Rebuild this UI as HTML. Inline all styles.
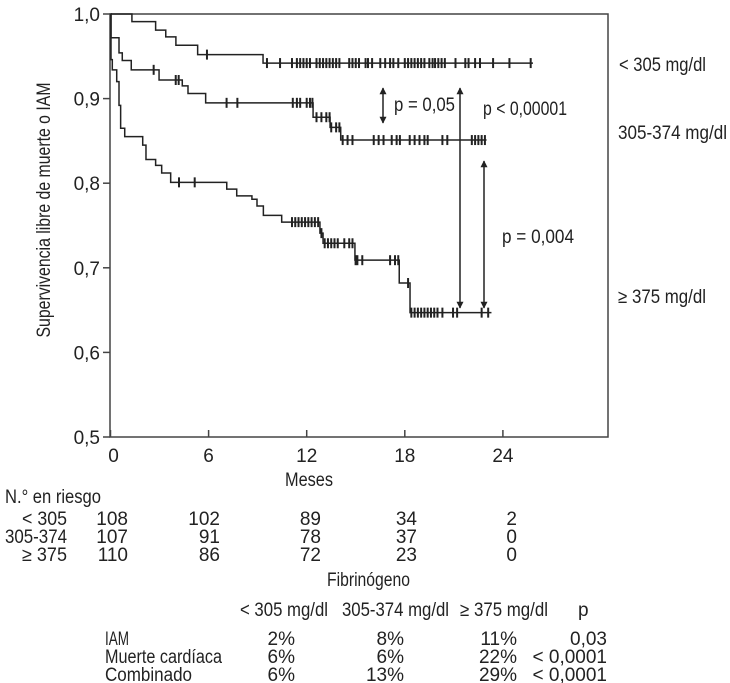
<!DOCTYPE html>
<html><head><meta charset="utf-8"><style>
html,body{margin:0;padding:0;background:#fff}
svg{display:block}
text{font-family:"Liberation Sans Narrow","Liberation Sans",sans-serif;font-size:19px;fill:#222}
</style></head><body>
<svg id="chart" width="730" height="683" viewBox="0 0 730 683" xmlns="http://www.w3.org/2000/svg">
<defs>
<marker id="ah" viewBox="0 0 10 10" refX="9" refY="5" markerWidth="7" markerHeight="10" orient="auto-start-reverse" markerUnits="userSpaceOnUse"><path d="M0,0 L10,5 L0,10 z" fill="#222"/></marker>
</defs>
<rect x="110" y="14" width="498" height="423" fill="none" stroke="#444" stroke-width="1.5"/>
<g id="axes"></g>
<g id="curves"></g>
<text transform="translate(50,210) rotate(-90)" text-anchor="middle" textLength="255" lengthAdjust="spacingAndGlyphs">Supervivencia libre de muerte  o IAM</text>
<text x="285" y="486" textLength="48" lengthAdjust="spacingAndGlyphs">Meses</text>
<text x="619" y="71" textLength="87" lengthAdjust="spacingAndGlyphs">&lt; 305 mg/dl</text>
<text x="618" y="139" textLength="109" lengthAdjust="spacingAndGlyphs">305-374 mg/dl</text>
<text x="618" y="303" textLength="88" lengthAdjust="spacingAndGlyphs">≥ 375 mg/dl</text>
<line x1="383" y1="88" x2="383" y2="123" stroke="#222" stroke-width="1.5" marker-start="url(#ah)" marker-end="url(#ah)"/>
<line x1="460" y1="88" x2="460" y2="308" stroke="#222" stroke-width="1.5" marker-start="url(#ah)" marker-end="url(#ah)"/>
<line x1="484" y1="161" x2="484" y2="308" stroke="#222" stroke-width="1.5" marker-start="url(#ah)" marker-end="url(#ah)"/>
<text x="394" y="111" textLength="61" lengthAdjust="spacingAndGlyphs">p = 0,05</text>
<text x="483" y="115" textLength="84" lengthAdjust="spacingAndGlyphs">p &lt; 0,00001</text>
<text x="502" y="243" textLength="72" lengthAdjust="spacingAndGlyphs">p = 0,004</text>

<text x="5" y="503" textLength="96" lengthAdjust="spacingAndGlyphs">N.° en riesgo</text>
<g id="risk"></g>
<text x="327" y="586" textLength="83" lengthAdjust="spacingAndGlyphs">Fibrinógeno</text>
<g>
<text x="240" y="616" textLength="88" lengthAdjust="spacingAndGlyphs">&lt; 305 mg/dl</text>
<text x="342" y="616" textLength="107" lengthAdjust="spacingAndGlyphs">305-374 mg/dl</text>
<text x="460" y="616" textLength="88" lengthAdjust="spacingAndGlyphs">≥ 375 mg/dl</text>
<text x="578" y="616">p</text>
<text x="105" y="645" textLength="24" lengthAdjust="spacingAndGlyphs">IAM</text>
<text x="105" y="663" textLength="117" lengthAdjust="spacingAndGlyphs">Muerte cardíaca</text>
<text x="105" y="681" textLength="87" lengthAdjust="spacingAndGlyphs">Combinado</text>
<g id="otab"></g>
</g>
</svg>
<script>
const months=[0,6,12,18,24];
const yTicks=[0.5,0.6,0.7,0.8,0.9,1.0];
const lowSteps=[[0,1],[1.31,0.991],[2.76,0.981],[3.38,0.973],[4.0,0.963],[5.33,0.952],[9.33,0.942]];
const lowEnd=25.84;
const lowCens=[5.9,9.57,10.37,11.1,11.4,11.6,11.8,12.0,12.2,12.6,12.8,13.0,13.2,13.4,13.6,13.8,14.0,14.6,14.8,15.0,15.2,15.6,15.75,16.0,16.5,16.8,17.1,17.3,17.6,18.0,18.2,18.4,18.6,18.8,19.0,19.2,19.5,19.7,19.85,20.05,20.25,20.45,21.1,21.7,21.9,22.3,22.6,23.4,24.4,25.7];
const midSteps=[[0,1],[0.03,0.972],[0.52,0.954],[0.72,0.945],[1.27,0.934],[2.97,0.922],[4.39,0.915],[4.74,0.906],[5.82,0.895],[12.39,0.878],[13.43,0.866],[14.08,0.851]];
const midEnd=23.0;
const midCens=[2.64,3.99,4.17,7.1,7.76,11.15,11.4,11.6,12.0,12.2,12.35,12.6,12.9,13.2,13.4,13.5,13.8,14.0,14.2,14.5,14.8,16.1,16.4,16.7,17.2,17.5,17.7,18.3,18.6,18.9,19.2,19.4,20.3,20.6,22.1,22.3,22.5,22.7,22.9];
const highSteps=[[0,1],[0.03,0.946],[0.11,0.934],[0.38,0.92],[0.52,0.892],[0.62,0.865],[0.87,0.855],[1.97,0.845],[2.17,0.828],[2.76,0.821],[3.13,0.812],[3.68,0.801],[7.11,0.793],[7.72,0.785],[8.65,0.781],[8.96,0.773],[9.35,0.762],[10.47,0.754],[12.81,0.741],[13.0,0.729],[14.95,0.709],[17.66,0.682],[18.32,0.647]];
const highEnd=23.3;
const highCens=[4.19,5.15,11.1,11.3,11.5,11.7,11.9,12.1,12.3,12.5,12.7,12.9,13.1,13.3,13.5,13.7,13.9,14.3,14.6,14.8,14.99,15.1,15.4,17.1,17.4,17.6,18.2,18.4,18.6,18.8,19.0,19.2,19.4,19.6,19.8,20.0,20.3,20.95,21.2,22.7,23.1];
const riskGroups=["< 305","305-374","≥ 375"];
const riskLow=[108,102,89,34,2];
const riskMid=[107,91,78,37,0];
const riskHigh=[110,86,72,23,0];
const outIAM=["2%","8%","11%","0,03"];
const outMuerte=["6%","6%","22%","< 0,0001"];
const outComb=["6%","13%","29%","< 0,0001"];

const NS="http://www.w3.org/2000/svg";
const X=m=>110.5+m*16.35;
const Y=v=>14+(1-v)*846;
function mk(tag,attrs,parent){const e=document.createElementNS(NS,tag);for(const k in attrs)e.setAttribute(k,attrs[k]);parent.appendChild(e);return e;}
const axes=document.getElementById('axes');
months.forEach(m=>{
  const t=mk('line',{x1:X(m),x2:X(m),y1:437,y2:430,stroke:'#444','stroke-width':1.5},axes);
  
  
  const l=mk('text',{x:X(m)+(m===0?3:0),y:462,'text-anchor':'middle'},axes);l.textContent=m;
  
  
});
yTicks.forEach(v=>{
  const t=mk('line',{x1:103,x2:110,y1:Y(v),y2:Y(v),stroke:'#444','stroke-width':1.5},axes);
  
  
  const l=mk('text',{x:100,y:Y(v)+7,'text-anchor':'end'},axes);l.textContent=v.toFixed(1).replace('.',',');
  
  
});
function valAt(steps,m){let v=steps[0][1];for(const s of steps){if(s[0]<=m)v=s[1];}return v;}
const cg=document.getElementById('curves');
function curve(steps,end,cens,name){
  let d='M'+X(steps[0][0])+','+Y(steps[0][1]);
  for(let i=1;i<steps.length;i++){d+=' H'+X(steps[i][0])+' V'+Y(steps[i][1]);}
  d+=' H'+X(end);
  const p=mk('path',{d:d,fill:'none',stroke:'#222','stroke-width':1.5},cg);
  
  
  cens.forEach(m=>{
    const y=Y(valAt(steps,m));
    const c=mk('line',{x1:X(m),x2:X(m),y1:y-5,y2:y+5,stroke:'#222','stroke-width':2},cg);
    
    
  });
}
curve(lowSteps,lowEnd,lowCens,'low');
curve(midSteps,midEnd,midCens,'mid');
curve(highSteps,highEnd,highCens,'high');

const rg=document.getElementById('risk');
const riskCols=[128,220,321,417,517];
const labelW=[45,62,45];
[riskLow,riskMid,riskHigh].forEach((row,i)=>{
  const y=525+i*18;
  const g=mk('text',{x:67,y:y,'text-anchor':'end',textLength:labelW[i],lengthAdjust:'spacingAndGlyphs'},rg);g.textContent=riskGroups[i];
  
  
  row.forEach((n,j)=>{
    const t=mk('text',{x:riskCols[j],y:y,'text-anchor':'end'},rg);t.textContent=n;
    
    
  });
});
const ot=document.getElementById('otab');
const oCols=[295,404,517,607];
[outIAM,outMuerte,outComb].forEach((row,i)=>{
  const y=645+i*18;
  row.forEach((s,j)=>{
    const t=mk('text',{x:oCols[j],y:y,'text-anchor':'end'},ot);t.textContent=s;
    
    
  });
});
</script>
</body></html>
